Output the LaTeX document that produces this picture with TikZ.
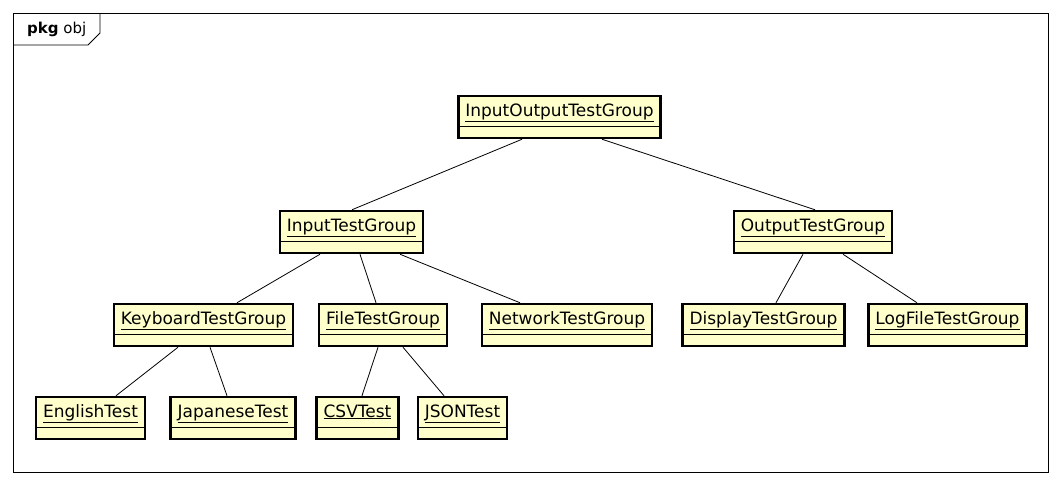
\documentclass[tikz,border=0pt]{standalone}
\usepackage{fontspec}
\setmainfont{DejaVu Sans}
\definecolor{classfill}{RGB}{255,255,204}

\begin{document}
\begin{tikzpicture}[x=1pt, y=-1pt,
  classbox/.style={draw, line width=2.5pt, fill=classfill, inner xsep=7pt, inner ysep=5pt,
    text height=15pt, text depth=17pt, font=\fontsize{17}{20}\selectfont,
    path picture={\draw[line width=0.6pt] ([yshift=12pt]path picture bounding box.south west) -- ([yshift=12pt]path picture bounding box.south east);}},
  link/.style={line width=0.8pt}]
  \useasboundingbox (0, 0) rectangle (1061, 485);

  % Draw the package frame
  \draw[line width=0.8pt] (13, 13) rectangle (1048, 472);
  \draw[line width=0.8pt] (13, 45) -- (88, 45) -- (100, 33) -- (100, 13);
  \node[anchor=west, inner sep=0pt, font=\fontsize{15}{18}\selectfont] (pkg) at (27, 29) {\textbf{pkg} obj};

  % Draw the test groups
  \node[classbox] (iotg) at (559.5, 117) {\underline{InputOutputTestGroup}};
  \node[classbox] (itg) at (351.5, 232) {\underline{InputTestGroup}};
  \node[classbox] (otg) at (813, 232) {\underline{OutputTestGroup}};
  \node[classbox] (kbtg) at (203.5, 325) {\underline{KeyboardTestGroup}};
  \node[classbox] (ftg) at (383, 325) {\underline{FileTestGroup}};
  \node[classbox] (ntg) at (567, 325) {\underline{NetworkTestGroup}};
  \node[classbox] (dtg) at (763.5, 325) {\underline{DisplayTestGroup}};
  \node[classbox] (lftg) at (947.5, 325) {\underline{LogFileTestGroup}};

  % Draw the single tests
  \node[classbox] (en) at (90.5, 418) {\underline{EnglishTest}};
  \node[classbox] (jp) at (233, 418) {\underline{JapaneseTest}};
  \node[classbox] (csv) at (357.5, 418) {\underline{CSVTest}};
  \node[classbox] (json) at (462.5, 418) {\underline{JSONTest}};

  % Draw the links
  \draw[link] ([xshift=-37.5pt]iotg.south) -- ([xshift=0.5pt]itg.north);
  \draw[link] ([xshift=42.5pt]iotg.south) -- ([xshift=2pt]otg.north);
  \draw[link] ([xshift=-31.5pt]itg.south) -- ([xshift=33.5pt]kbtg.north);
  \draw[link] ([xshift=8.5pt]itg.south) -- ([xshift=-7pt]ftg.north);
  \draw[link] ([xshift=48.5pt]itg.south) -- ([xshift=-47pt]ntg.north);
  \draw[link] ([xshift=-10pt]otg.south) -- ([xshift=12.5pt]dtg.north);
  \draw[link] ([xshift=30pt]otg.south) -- ([xshift=-30.5pt]lftg.north);
  \draw[link] ([xshift=-25.5pt]kbtg.south) -- ([xshift=25.5pt]en.north);
  \draw[link] ([xshift=6.5pt]kbtg.south) -- ([xshift=-6pt]jp.north);
  \draw[link] ([xshift=-5pt]ftg.south) -- ([xshift=4.5pt]csv.north);
  \draw[link] ([xshift=20pt]ftg.south) -- ([xshift=-18.5pt]json.north);
\end{tikzpicture}
\end{document}
